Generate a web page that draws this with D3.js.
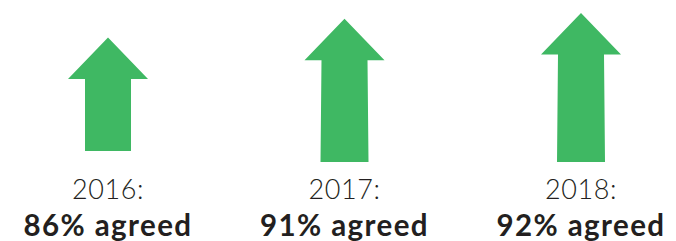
<!DOCTYPE html>
<html>
<head>
<meta charset="utf-8">
<script src="https://cdn.jsdelivr.net/npm/d3@7"></script>
<style>
  html, body { margin: 0; padding: 0; background: #ffffff; }
  svg { display: block; }
</style>
</head>
<body>
<svg id="chart" width="676" height="241"></svg>
<script>
// ---- data ----
const years = ["2016", "2017", "2018"];
const agreedPct = [86, 91, 92];
const yearLabels = ["2016:", "2017:", "2018:"];
const valueLabels = ["86% agreed", "91% agreed", "92% agreed"];

// ---- layout ----
const W = 676, H = 241;
const green = "#3fb863";
const textColor = "#231f20";
const arrowBase = [151, 162, 162];   // bottom of each arrow shaft
const headH = 41.5, headW = 80, shaftW = 46;

const svg = d3.select("#chart");

const x = d3.scalePoint().domain(years).range([108, 581]).padding(0);
const hScale = d3.scaleLinear().domain([86, 92]).range([113.6, 149.1]);

function arrowPath(cx, top, bottom, taper) {
  const p = d3.path();
  const hb = top + headH;
  p.moveTo(cx, top);
  p.lineTo(cx + headW / 2, hb);
  p.lineTo(cx + shaftW / 2, hb);
  p.lineTo(cx + shaftW / 2 + taper, bottom);
  p.lineTo(cx - shaftW / 2 - taper, bottom);
  p.lineTo(cx - shaftW / 2, hb);
  p.lineTo(cx - headW / 2, hb);
  p.closePath();
  return p.toString();
}

const items = years.map((y, i) => ({
  year: y, value: agreedPct[i], yl: yearLabels[i], vl: valueLabels[i], i
}));

const g = svg.selectAll("g.item").data(items).enter().append("g").attr("class", "item");

g.append("path")
  .attr("d", d => {
    const bottom = arrowBase[d.i];
    const top = bottom - hScale(d.value);
    return arrowPath(x(d.year), top, bottom, d.i === 0 ? 0 : 1);
  })
  .attr("fill", green);

g.append("text")
  .attr("x", d => x(d.year))
  .attr("y", 198.5)
  .attr("text-anchor", "middle")
  .attr("font-family", "Lato, 'Noto Sans', sans-serif")
  .attr("font-size", 27)
  .attr("font-weight", 300)
  .attr("letter-spacing", 0.6)
  .attr("fill", textColor)
  .text(d => d.yl);

g.append("text")
  .attr("x", d => x(d.year))
  .attr("y", 236)
  .attr("text-anchor", "middle")
  .attr("font-family", "Lato, 'Noto Sans', sans-serif")
  .attr("font-size", 29.5)
  .attr("font-weight", 700)
  .attr("letter-spacing", 1.4)
  .attr("fill", textColor)
  .text(d => d.vl);
</script>
</body>
</html>
